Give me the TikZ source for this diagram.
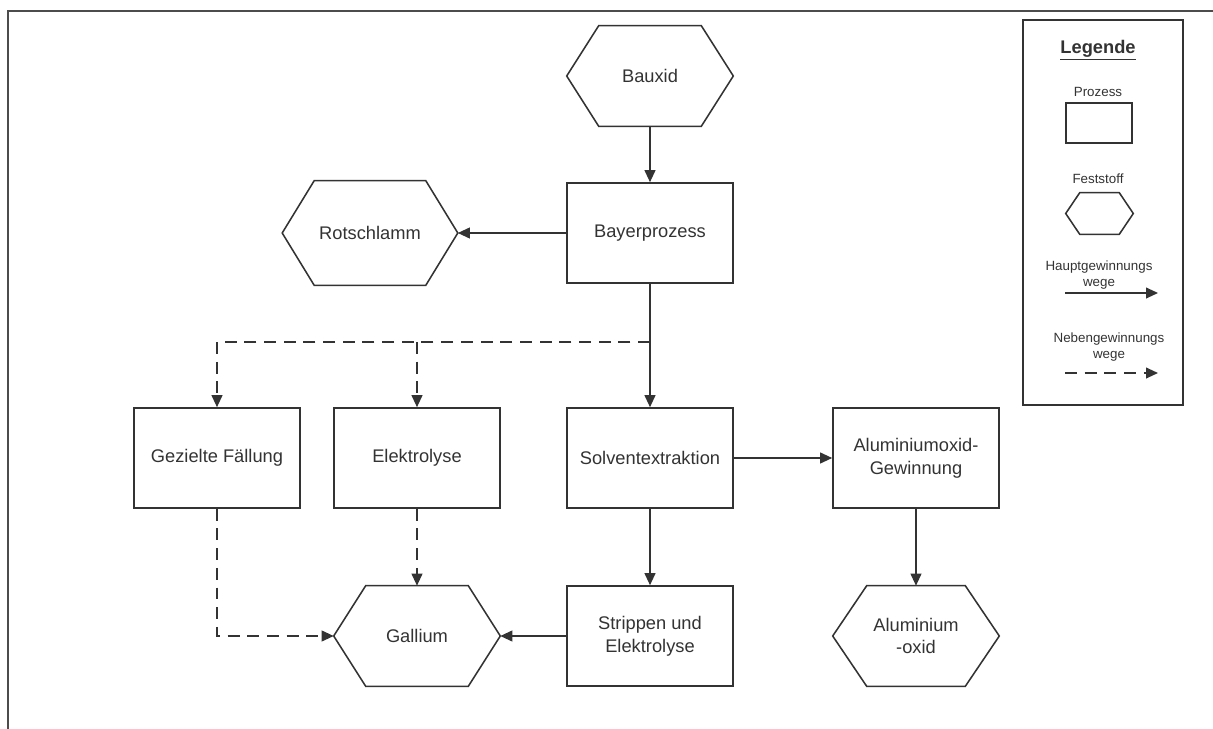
\documentclass[tikz,border=0pt]{standalone}
\usepackage{fontspec}
\setmainfont{Liberation Sans}
\usepackage{tikz}
\usetikzlibrary{positioning,arrows.meta,calc}
\colorlet{linie}{black!80}
\tikzset{
prozess/.style={
draw=linie,
line width=1.1pt,
minimum width=4.15cm,
minimum height=2.5cm,
align=center,
text=black!80,
font=\fontsize{13}{16.3}\selectfont
},
stoff/.style={
minimum width=4.15cm,
minimum height=2.5cm,
align=center,
text=black!80,
font=\fontsize{13}{16.3}\selectfont
},
hexlinie/.style={
draw=linie,
line width=1.1pt,
line join=miter
},
legtext/.style={
align=center,
text=black!80,
font=\fontsize{9.5}{11.5}\selectfont
},
haupt/.style={
-{Triangle[length=3mm,width=2.7mm]},
draw=linie,
line width=1.1pt
},
neben/.style={
haupt,
dash pattern=on 8.5pt off 5.5pt
}
}

\begin{document}
\begin{tikzpicture}[x=0.025cm,y=-0.025cm]
\useasboundingbox (0,0) rectangle (1213,729);
\draw[draw=black!70,line width=1.5pt] (8,729) -- (8,11) -- (1213,11);

% Hauptkette
\node[stoff](bauxid) at (650,76){Bauxid};
\node[prozess](bayer) at (650,233){Bayerprozess};
\node[stoff,minimum width=4.375cm,minimum height=2.6cm](rotschlamm) at (370,233){Rotschlamm};
\node[prozess](faellung) at (217,458){Gezielte Fällung};
\node[prozess](elektrolyse) at (417,458){Elektrolyse};
\node[prozess](solvent) at (650,458){Solventextraktion};
\node[prozess](alugew) at (916,458){Aluminiumoxid-\\Gewinnung};
\node[stoff](gallium) at (417,636){Gallium};
\node[prozess](strippen) at (650,636){Strippen und\\Elektrolyse};
\node[stoff](aloxid) at (916,636){Aluminium\\-oxid};
\coordinate (split) at (650,342);

% Legende
\node[draw=linie,line width=1.1pt,minimum width=4cm,minimum height=9.625cm](legende) at (1103,212.5){};
\node[text=black!80,font=\fontsize{13}{15}\selectfont\bfseries](legtitel) at (1098,50){\underline{Legende}};
\node[legtext](legprozess) at (1098,92){Prozess};
\node[draw=linie,line width=1.1pt,minimum width=1.65cm,minimum height=1cm](legrect) at (1099,123){};
\node[legtext](legfest) at (1098,179){Feststoff};
\node[minimum width=1.675cm,minimum height=1.025cm](leghex) at (1099.5,213.5){};
\node[legtext](leghaupt) at (1099,275){Hauptgewinnungs\\wege};
\coordinate (hauptA) at (1065,293);
\coordinate (hauptB) at (1158,293);
\node[legtext](legneben) at (1109,347){Nebengewinnungs\\wege};
\coordinate (nebenA) at (1065,373);
\coordinate (nebenB) at (1158,373);

\foreach \n/\d in {bauxid/32,rotschlamm/32,gallium/32,aloxid/34,leghex/14}
\draw[hexlinie] (\n.west) -- ([xshift=\d*0.025cm]\n.north west) -- ([xshift=-\d*0.025cm]\n.north east)
 -- (\n.east) -- ([xshift=-\d*0.025cm]\n.south east) -- ([xshift=\d*0.025cm]\n.south west) -- cycle;

\foreach \x/\y in {bauxid/bayer,bayer/rotschlamm,bayer/solvent,solvent/alugew,solvent/strippen,alugew/aloxid,strippen/gallium,hauptA/hauptB}
\draw[haupt](\x)--(\y);

\draw[neben](split) -| (faellung);
\draw[neben](elektrolyse.north |- split) -- (elektrolyse);
\draw[neben](faellung) |- (gallium);
\draw[neben](elektrolyse) -- (gallium);
\draw[neben](nebenA) -- (nebenB);
\end{tikzpicture}
\end{document}
